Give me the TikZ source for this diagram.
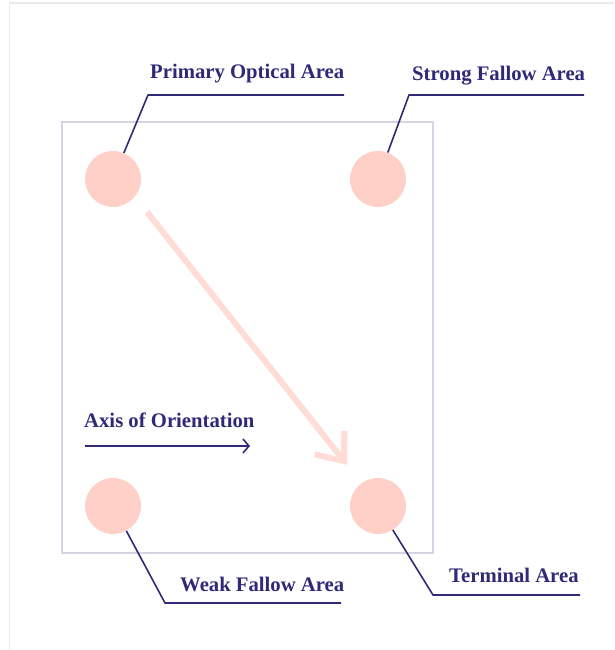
\documentclass[tikz,border=0pt]{standalone}
\usepackage{fontspec}
\setmainfont{Liberation Serif}
\usetikzlibrary{calc,arrows.meta}
\definecolor{navy}{RGB}{46,42,120}
\definecolor{dot}{RGB}{255,208,200}
\definecolor{arrowpink}{RGB}{255,220,214}
\definecolor{frame}{RGB}{212,212,226}
\definecolor{card}{RGB}{234,234,238}
\tikzset{
  area/.style={circle,fill=dot,draw=none,minimum size=56pt,inner sep=0pt},
  lbl/.style={anchor=west,text=navy,font=\fontsize{20.7}{24}\selectfont\bfseries,inner sep=0pt},
  leader/.style={draw=navy,line width=1.6pt,line join=round},
  bigarrow/.style={draw=arrowpink,line width=6pt},
}
\begin{document}
\begin{tikzpicture}[x=1pt,y=-1pt]
\useasboundingbox (0,0) rectangle (614,650);
% card edge
\draw[card,line width=1.2pt] (9.5,650) -- (9.5,3) -- (614,3);
% frame
\draw[frame,line width=1.5pt] (62,122) rectangle (433,553);
% areas
\node[area] (c1) at (113,179) {};
\node[area] (c2) at (378,179) {};
\node[area] (c3) at (113,506) {};
\node[area] (c4) at (378,506) {};
% big arrow
\coordinate (s) at (147,212);
\coordinate (t) at (344,461);
\draw[bigarrow] (s) -- (t);
\draw[bigarrow] ($(t)!30pt!39:(s)$) -- (t) -- ($(t)!30pt!-39:(s)$);
% labels
\node[lbl] (l1) at (150,74) {Primary Optical Area};
\node[lbl] (l2) at (412,76) {Strong Fallow Area};
\node[lbl] (l3) at (84,420) {Axis of Orientation};
\node[lbl] (l4) at (180,584) {Weak Fallow Area};
\node[lbl] (l5) at (449,575) {Terminal Area};
% leaders
\coordinate (b1) at (148,95); \coordinate (e1) at (344,95);
\coordinate (b2) at (409,95); \coordinate (e2) at (584,95);
\coordinate (b4) at (165,603); \coordinate (e4) at (341,603);
\coordinate (b5) at (433,595); \coordinate (e5) at (580,595);
\draw[leader] (c1) -- (b1) -- (e1);
\draw[leader] (c2) -- (b2) -- (e2);
\draw[leader] (c3) -- (b4) -- (e4);
\draw[leader] (c4) -- (b5) -- (e5);
% axis arrow
\coordinate (a1) at (85,446); \coordinate (a2) at (250,446);
\draw[leader,-{Straight Barb[length=6pt,width=14pt]}] (a1) -- (a2);
\end{tikzpicture}
\end{document}
